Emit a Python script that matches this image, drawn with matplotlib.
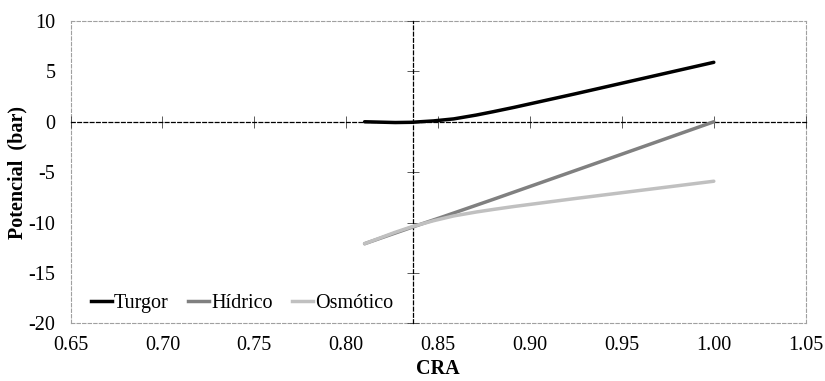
import numpy as np
import matplotlib
matplotlib.use("Agg")
import matplotlib.pyplot as plt
from matplotlib.path import Path
from matplotlib.patches import PathPatch
from matplotlib.lines import Line2D

# Data
cra = [0.81, 0.84, 0.88, 1.00]
turgor = [0.0, 0.0, 1.0, 5.9]
hidrico = [-12.1, -10.2, -7.7, 0.0]
osmotico = [-12.1, -10.2, -8.7, -5.9]

series_names = ["Turgor", "Hídrico", "Osmótico"]
series_colors = ["#000000", "#808080", "#c0c0c0"]

x_ticks = [0.65, 0.70, 0.75, 0.80, 0.85, 0.90, 0.95, 1.00, 1.05]
y_ticks = [-20, -15, -10, -5, 0, 5, 10]
y_cross = 0.8365

plt.rcParams["font.family"] = ["Liberation Serif", "DejaVu Serif"]
plt.rcParams["font.size"] = 14.5
plt.rcParams["axes.unicode_minus"] = False


def smooth_path(xs, ys):
    """Excel-like smoothed line as cubic Bezier segments."""
    pts = np.column_stack([xs, ys])
    n = len(pts)
    verts = [pts[0]]
    codes = [Path.MOVETO]
    for i in range(n - 1):
        p0 = pts[i - 1] if i > 0 else pts[i]
        p1, p2 = pts[i], pts[i + 1]
        p3 = pts[i + 2] if i + 2 < n else pts[i + 1]
        verts += [p1 + (p2 - p0) / 6, p2 - (p3 - p1) / 6, p2]
        codes += [Path.CURVE4] * 3
    return Path(verts, codes)


fig = plt.figure(figsize=(8.25, 3.81), dpi=100)
rect = [0.0855, 0.1514, 0.8911, 0.7935]
ax = fig.add_axes(rect)
ax.set_xlim(0.65, 1.05)
ax.set_ylim(-20, 10)
ax.set_xticks(x_ticks)
ax.set_xticklabels([f"{t:.2f}" for t in x_ticks])
ax.set_yticks(y_ticks)
ax.tick_params(axis="x", length=0, pad=9)
ax.tick_params(axis="y", length=0, pad=11)
for s in ax.spines.values():
    s.set_linestyle((0, (3, 2)))
    s.set_color("#a0a0a0")
    s.set_linewidth(0.8)

ax.set_xlabel("CRA", fontweight="bold", labelpad=3)
ax.set_ylabel("Potencial  (bar)", fontweight="bold", labelpad=1)

# crossing axes overlay
ax2 = fig.add_axes(rect, sharex=ax, sharey=ax)
ax2.patch.set_visible(False)
ax2.spines["top"].set_visible(False)
ax2.spines["right"].set_visible(False)
ax2.spines["bottom"].set_position(("data", 0))
ax2.spines["left"].set_position(("data", y_cross))
for k in ["bottom", "left"]:
    ax2.spines[k].set_linestyle((0, (3, 2)))
    ax2.spines[k].set_linewidth(0.9)
ax2.tick_params(direction="inout", length=8, width=0.6, color="#404040",
                labelbottom=False, labelleft=False)

data = [turgor, hidrico, osmotico]
handles = []
for name, vals, col in zip(series_names, data, series_colors):
    p = PathPatch(smooth_path(cra, vals), facecolor="none", edgecolor=col,
                  linewidth=2.5, capstyle="round", zorder=3)
    ax2.add_patch(p)
    handles.append(Line2D([], [], color=col, linewidth=2.5, label=name))

ax2.legend(handles=handles, loc="lower left", ncol=3, frameon=False,
           handlelength=1.05, handletextpad=0.1, columnspacing=0.95,
           bbox_to_anchor=(0.003, -0.025), fontsize=14.5)

fig.savefig("out.png", dpi=100)
